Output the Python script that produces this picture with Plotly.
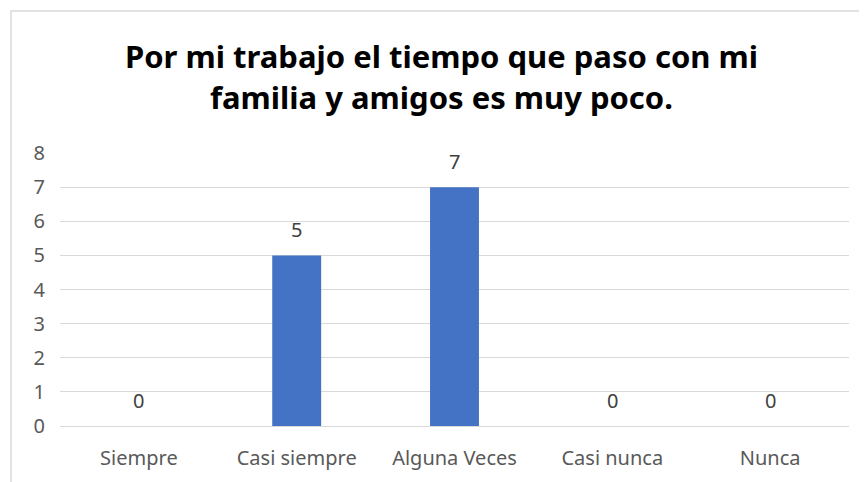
import plotly.graph_objects as go

categories = ["Siempre", "Casi siempre", "Alguna Veces", "Casi nunca", "Nunca"]
values = [0, 5, 7, 0, 0]
y_ticks = [0, 1, 2, 3, 4, 5, 6, 7, 8]

title = "Por mi trabajo el tiempo que paso con mi<br>familia y amigos es muy poco."

fig = go.Figure()
fig.add_trace(go.Bar(x=categories, y=values,
                     marker=dict(color="#4472C4", line=dict(width=0)),
                     showlegend=False))

# value labels above each bar
for cat, val in zip(categories, values):
    fig.add_annotation(x=cat, y=val, text=str(val), showarrow=False,
                       yanchor="middle", yshift=26,
                       font=dict(size=20, color="#404040"))

# outer chart border (as in the spreadsheet export)
fig.add_shape(type="rect", xref="paper", yref="paper",
              x0=-0.0621, x1=1.2, y0=-0.5, y1=1.52,
              line=dict(color="#D9D9D9", width=1.5))

fig.update_layout(
    width=867, height=482,
    margin=dict(l=52, r=26, t=145, b=64),
    paper_bgcolor="white", plot_bgcolor="white",
    font=dict(family="Noto Sans", color="#595959"),
    bargap=0.69,
    title=dict(text=title, x=0.5, xanchor="center", y=0.875, yanchor="top",
               font=dict(size=31, color="black", family="Noto Sans", weight="bold")),
    xaxis=dict(showgrid=False, showline=False, ticks="",
               tickfont=dict(size=20, color="#595959"), ticklabelstandoff=18),
    yaxis=dict(range=[0, 8], tickvals=y_ticks, showgrid=True, gridcolor="#D9D9D9",
               gridwidth=1, zeroline=True, zerolinecolor="#D9D9D9", zerolinewidth=1,
               tickfont=dict(size=20, color="#595959"), ticklabelstandoff=14),
)

fig.write_html("out.html")
